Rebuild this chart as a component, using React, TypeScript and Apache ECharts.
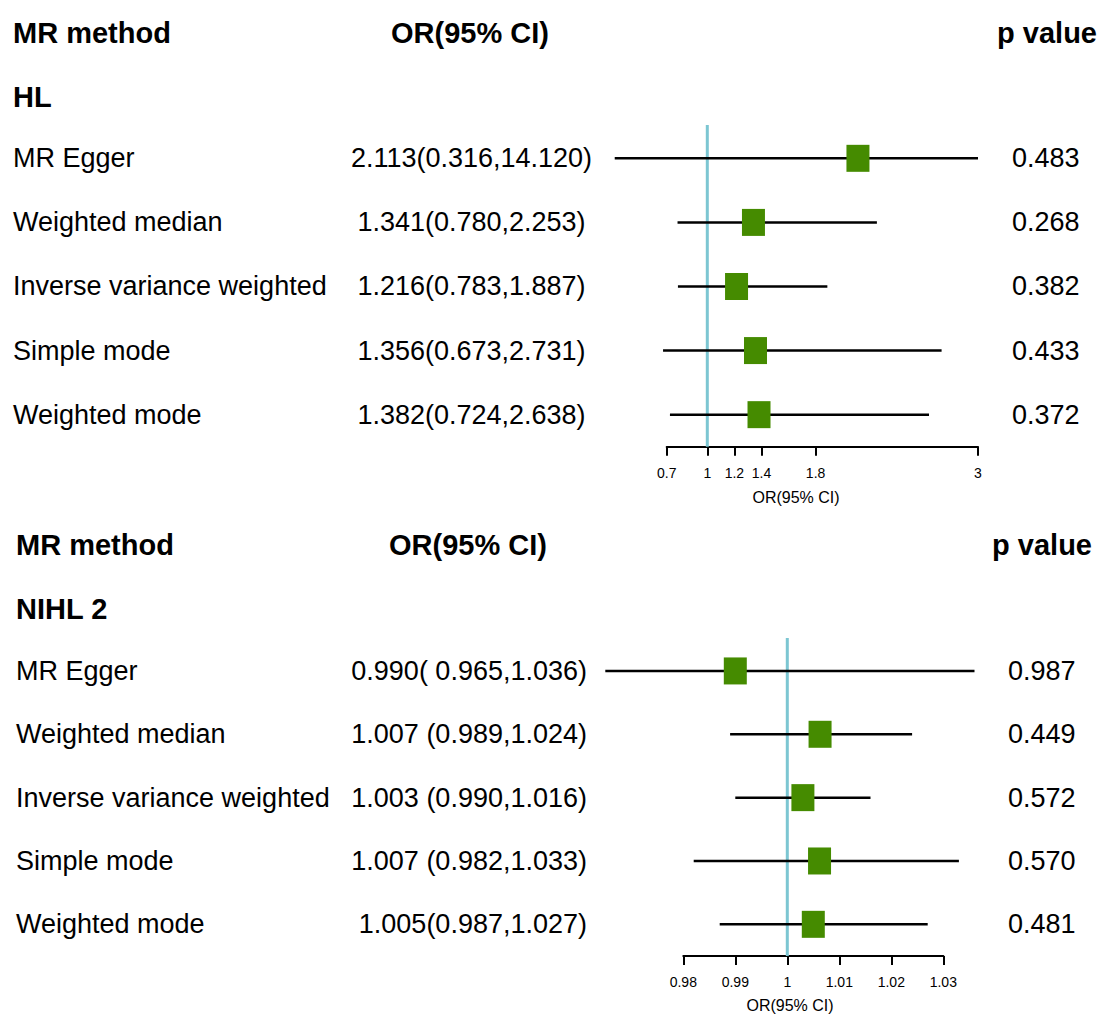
import React, { useEffect, useRef } from "react";
import * as echarts from "echarts";

// ---- Data ----
const methods = [
  "MR Egger",
  "Weighted median",
  "Inverse variance weighted",
  "Simple mode",
  "Weighted mode",
];

// Panel 1: HL
const hlOR = [2.113, 1.341, 1.216, 1.356, 1.382];
const hlLower = [0.316, 0.78, 0.783, 0.673, 0.724];
const hlUpper = [14.12, 2.253, 1.887, 2.731, 2.638];
const hlORText = [
  "2.113(0.316,14.120)",
  "1.341(0.780,2.253)",
  "1.216(0.783,1.887)",
  "1.356(0.673,2.731)",
  "1.382(0.724,2.638)",
];
const hlPValues = ["0.483", "0.268", "0.382", "0.433", "0.372"];
const hlTicks = [0.7, 1, 1.2, 1.4, 1.8, 3];

// Panel 2: NIHL 2
const nihlOR = [0.99, 1.0063, 1.003, 1.0062, 1.005];
const nihlLower = [0.965, 0.989, 0.99, 0.982, 0.987];
const nihlUpper = [1.036, 1.024, 1.016, 1.033, 1.027];
const nihlORText = [
  "0.990( 0.965,1.036)",
  "1.007 (0.989,1.024)",
  "1.003 (0.990,1.016)",
  "1.007 (0.982,1.033)",
  "1.005(0.987,1.027)",
];
const nihlPValues = ["0.987", "0.449", "0.572", "0.570", "0.481"];
const nihlTicks = [0.98, 0.99, 1, 1.01, 1.02, 1.03];

const FONT = "'Liberation Sans', Arial, Helvetica, sans-serif";
const ROW_MIN = -0.52;
const ROW_MAX = 4.5;
const GREEN = "#458B00";
const REF = "#7CC6D2";

function buildPanel(
  p: number,
  or: number[],
  lo: number[],
  hi: number[],
  orText: string[],
  pVals: string[],
  clipLo: number,
  clipHi: number,
  cols: { method: number; orX: number; orAlign: string; pX: number }
) {
  const rows = or.map((v, i) => [i, v, lo[i], hi[i]]);
  const series: any[] = [];
  // reference line at OR = 1
  series.push({
    type: "custom",
    xAxisIndex: p,
    yAxisIndex: p,
    data: [[1]],
    silent: true,
    renderItem: (params: any, api: any) => {
      const a = api.coord([api.value(0), ROW_MIN]);
      const b = api.coord([api.value(0), ROW_MAX]);
      return {
        type: "line",
        shape: { x1: a[0], y1: a[1], x2: b[0], y2: b[1] },
        style: { stroke: REF, lineWidth: 3 },
      };
    },
  });
  // CI lines + boxes
  series.push({
    type: "custom",
    xAxisIndex: p,
    yAxisIndex: p,
    data: rows,
    clip: false,
    renderItem: (params: any, api: any) => {
      const row = api.value(0);
      const o = api.value(1);
      const l = Math.max(api.value(2), clipLo);
      const h = Math.min(api.value(3), clipHi);
      const pL = api.coord([l, row]);
      const pH = api.coord([h, row]);
      const pO = api.coord([o, row]);
      return {
        type: "group",
        children: [
          {
            type: "line",
            shape: { x1: pL[0], y1: pL[1], x2: pH[0], y2: pH[1] },
            style: { stroke: "#000", lineWidth: 2.5 },
          },
          {
            type: "rect",
            shape: { x: pO[0] - 11.5, y: pO[1] - 13.5, width: 23, height: 27 },
            style: { fill: GREEN },
          },
        ],
      };
    },
  });
  // text columns
  const textCol = (texts: string[], x: number, align: string) => ({
    type: "custom",
    xAxisIndex: p,
    yAxisIndex: p,
    data: texts.map((t, i) => [i]),
    clip: false,
    silent: true,
    renderItem: (params: any, api: any) => {
      const i = api.value(0);
      const y = api.coord([clipHi, i])[1];
      return {
        type: "text",
        x,
        y,
        style: {
          text: texts[params.dataIndex],
          fontSize: 27,
          fontFamily: FONT,
          fill: "#000",
          align,
          verticalAlign: "middle",
        },
      };
    },
  });
  series.push(textCol(methods, cols.method, "left"));
  series.push(textCol(orText, cols.orX, cols.orAlign));
  series.push(textCol(pVals, cols.pX, "left"));
  return series;
}

function axisDef(p: number, min: number, max: number, ticks: number[]) {
  return {
    gridIndex: p,
    type: "value",
    min,
    max,
    axisLine: { show: true, onZero: false, lineStyle: { color: "#000", width: 2 } },
    axisTick: { show: true, customValues: ticks, length: 9, lineStyle: { color: "#000", width: 2 } },
    axisLabel: { customValues: ticks, fontSize: 14, color: "#000", margin: 19, fontFamily: FONT },
    splitLine: { show: false },
  };
}

function headerTexts(y0: number, y1: number, group: string, methodX: number, orCenter: number, pRight: number, axisTitleX: number, axisTitleY: number) {
  const bold = (text: string, x: number, y: number, align: string) => ({
    type: "text",
    x,
    y,
    style: { text, fontSize: 29, fontWeight: "bold", fontFamily: FONT, fill: "#000", align, verticalAlign: "middle" },
  });
  return [
    bold("MR method", methodX, y0, "left"),
    bold("OR(95% CI)", orCenter, y0, "center"),
    bold("p value", pRight, y0, "right"),
    bold(group, methodX, y1, "left"),
    {
      type: "text",
      x: axisTitleX,
      y: axisTitleY,
      style: { text: "OR(95% CI)", fontSize: 16, fontFamily: FONT, fill: "#000", align: "center", verticalAlign: "middle" },
    },
  ];
}

export default function App() {
  const ref = useRef<HTMLDivElement>(null);
  useEffect(() => {
    if (!ref.current) return;
    const chart = echarts.init(ref.current, undefined, { renderer: "svg" });
    const option: any = {
      animation: false,
      backgroundColor: "#fff",
      grid: [
        { left: 666.7, width: 311.3, top: 125, height: 321.7 },
        { left: 683.3, width: 260, top: 638, height: 318 },
      ],
      xAxis: [axisDef(0, 0.7, 3, hlTicks), axisDef(1, 0.98, 1.03, nihlTicks)],
      yAxis: [
        { gridIndex: 0, type: "value", min: ROW_MIN, max: ROW_MAX, inverse: true, show: false },
        { gridIndex: 1, type: "value", min: ROW_MIN, max: ROW_MAX, inverse: true, show: false },
      ],
      series: [
        ...buildPanel(0, hlOR, hlLower, hlUpper, hlORText, hlPValues, 0.3, 3, { method: 13, orX: 471.5, orAlign: "center", pX: 1012 }),
        ...buildPanel(1, nihlOR, nihlLower, nihlUpper, nihlORText, nihlPValues, 0.9, 1.1, { method: 16, orX: 587, orAlign: "right", pX: 1008 }),
      ],
      graphic: [
        ...headerTexts(33, 97, "HL", 13, 470, 1097, 796, 497),
        ...headerTexts(545, 609, "NIHL 2", 16, 468, 1092, 790, 1005),
      ],
    };
    chart.setOption(option);
    return () => chart.dispose();
  }, []);
  return (
    <div
      ref={ref}
      style={{ position: "absolute", left: 0, top: 0, width: 1101, height: 1014, background: "#fff" }}
    />
  );
}
